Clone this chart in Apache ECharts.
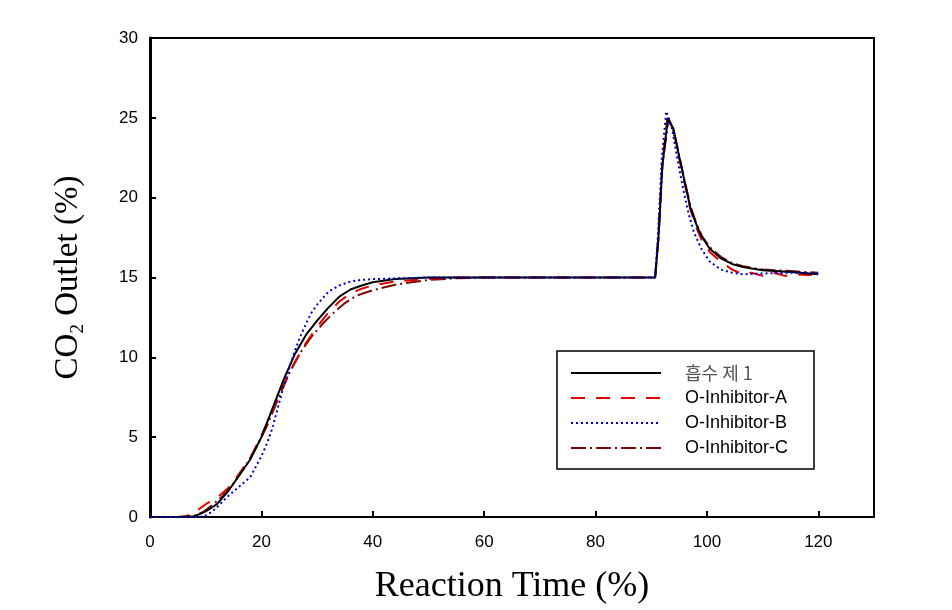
<!DOCTYPE html>
<html>
<head>
<meta charset="utf-8">
<script src="https://cdn.jsdelivr.net/npm/echarts@6/dist/echarts.min.js"></script>
<style>html,body{margin:0;padding:0;background:#fff;}#c{width:952px;height:610px;}</style>
</head>
<body>
<div id="c"></div>
<script>
var seriesNames = ['흡수 제 1', 'O-Inhibitor-A', 'O-Inhibitor-B', 'O-Inhibitor-C'];
var xTicks = [0, 20, 40, 60, 80, 100, 120];
var yTicks = [0, 5, 10, 15, 20, 25, 30];

var x1 = [0,5,8,9,10,12,14,16,18,20,22,24,26,28,30,32,34,36,38,40,44,50,60,70,80,90.7,91.3,92.0,93.0,94.0,95.0,96.0,97.0,98.0,99.0,100.5,102.5,104.5,106.5,110,115,120];
var y1 = [0,0,0.05,0.2,0.35,0.8,1.6,2.6,3.6,5.0,6.8,8.6,10.2,11.4,12.3,13.1,13.8,14.25,14.5,14.7,14.9,15.0,15.0,15.0,15.0,15.0,17.5,22.0,25.0,24.3,22.6,21.0,19.4,18.4,17.6,16.8,16.2,15.85,15.65,15.45,15.35,15.2];

var xA = [0,5,6.5,8,10,12,14,16,18,20,22,24,26,28,30,32,34,36,38,40,44,50,55,60,70,80,90.7,91.3,92.0,92.9,94.0,95.0,96.0,97.0,98.0,99.0,100.5,102.5,104.5,106.5,108,110,112,114,116,118,120];
var yA = [0,0,0.05,0.3,0.8,1.2,1.8,2.7,3.7,5.1,6.6,8.3,9.7,10.9,11.9,12.8,13.5,14.0,14.3,14.5,14.75,14.9,15.0,15.0,15.0,15.0,15.0,17.6,22.2,25.0,24.2,22.5,20.9,19.3,18.2,17.4,16.6,16.0,15.5,15.2,15.3,15.1,15.3,15.1,15.2,15.15,15.2];

var xB = [0,9,10,11,12,14,16,18,20,21,22,23,24,25,26,27,28,29,30,31,32,34,36,38,40,45,50,60,70,80,90.7,91.2,91.9,92.7,93.7,94.7,95.7,96.7,97.7,99.0,100.5,102.5,104.5,106.5,110,115,120];
var yB = [0,0,0.1,0.3,0.6,1.3,1.9,2.5,3.8,4.6,5.6,6.9,8.2,9.3,10.4,11.3,12.1,12.8,13.3,13.7,14.1,14.5,14.75,14.85,14.9,14.95,15.0,15.0,15.0,15.0,15.0,17.6,22.5,25.4,24.4,22.4,20.6,19.0,17.8,16.8,16.0,15.5,15.3,15.2,15.25,15.3,15.25];

var xC = [0,6,8,9.5,11,13,15,17,19,21,23,25,27,29,31,33,35,37,40,44,50,55,60,70,80,90.7,91.3,92.0,93.1,94.1,95.1,96.1,97.1,98.1,99.1,100.5,102.5,104.5,106.5,110,115,120];
var yC = [0,0,0.1,0.3,0.7,1.3,2.1,3.1,4.3,5.7,7.4,9.0,10.3,11.3,12.1,12.8,13.4,13.85,14.2,14.55,14.85,14.95,15.0,15.0,15.0,15.0,17.5,22.0,24.9,24.1,22.5,20.9,19.4,18.4,17.6,16.9,16.3,15.9,15.7,15.5,15.4,15.3];

function pairs(xs, ys) { return xs.map(function (x, i) { return [x, ys[i]]; }); }

var chart = echarts.init(document.getElementById('c'), null, {renderer: 'canvas'});
var axisFont = 'Liberation Sans, Arial, sans-serif';
var titleFont = 'Liberation Serif, Times New Roman, serif';

var option = {
  animation: false,
  backgroundColor: '#fff',
  grid: { left: 150, right: 78, top: 38, bottom: 86, show: true, borderColor: '#000', borderWidth: 2, backgroundColor: 'transparent' },
  xAxis: {
    type: 'value', min: 0, max: 130, interval: 20,
    name: 'Reaction Time (%)', nameLocation: 'middle', nameGap: 52,
    nameTextStyle: { fontFamily: titleFont, fontSize: 36, color: '#000' },
    axisLine: { show: true, lineStyle: { color: '#000', width: 2 } },
    axisTick: { show: true, inside: true, length: 6, lineStyle: { color: '#000', width: 2 } },
    axisLabel: { fontFamily: axisFont, fontSize: 17, color: '#000', margin: 17,
      formatter: function (v) { return xTicks.indexOf(v) >= 0 ? String(v) : ''; } },
    splitLine: { show: false }
  },
  yAxis: {
    type: 'value', min: 0, max: 30, interval: 5,
    name: '{a|CO}{s|2}{a| Outlet (%)}', nameLocation: 'middle', nameGap: 62, nameRotate: 90,
    nameTextStyle: { fontFamily: titleFont, fontSize: 32, color: '#000',
      rich: {
        a: { fontFamily: titleFont, fontSize: 33, color: '#000', lineHeight: 36, verticalAlign: 'top' },
        s: { fontFamily: titleFont, fontSize: 19, color: '#000', lineHeight: 19, padding: [20, 0, 0, 0], verticalAlign: 'bottom' }
      } },
    axisLine: { show: true, lineStyle: { color: '#000', width: 3 } },
    axisTick: { show: true, inside: true, length: 6, lineStyle: { color: '#000', width: 2 } },
    axisLabel: { fontFamily: axisFont, fontSize: 17, color: '#000', margin: 12,
      formatter: function (v) { return yTicks.indexOf(v) >= 0 ? String(v) : ''; } },
    splitLine: { show: false }
  },
  legend: {
    orient: 'vertical', left: 557, top: 351,
    padding: [13, 26, 12, 13],
    itemWidth: 90, itemHeight: 14, itemGap: 7,
    backgroundColor: '#fff', borderColor: '#000', borderWidth: 1.5,
    itemStyle: { color: 'rgba(0,0,0,0)', borderColor: 'rgba(0,0,0,0)', borderWidth: 0, opacity: 0 },
    textStyle: { fontFamily: axisFont, fontSize: 18, color: '#000', padding: [0, 0, 0, 19] },
    data: [
      { name: seriesNames[0], textStyle: { color: '#555', fontFamily: 'Noto Sans CJK KR, sans-serif', fontSize: 18 } },
      { name: seriesNames[1] },
      { name: seriesNames[2] },
      { name: seriesNames[3] }
    ]
  },
  series: [
    { name: seriesNames[0], type: 'line', data: pairs(x1, y1), symbol: 'none', z: 4,
      lineStyle: { color: '#000', width: 2, type: 'solid' }, itemStyle: { color: '#000' } },
    { name: seriesNames[1], type: 'line', data: pairs(xA, yA), symbol: 'none', z: 3,
      lineStyle: { color: '#e00000', width: 2, type: [14, 11] }, itemStyle: { color: '#e00000' } },
    { name: seriesNames[2], type: 'line', data: pairs(xB, yB), symbol: 'none', z: 5,
      lineStyle: { color: '#0000cc', width: 2, type: [2, 3] }, itemStyle: { color: '#0000cc' } },
    { name: seriesNames[3], type: 'line', data: pairs(xC, yC), symbol: 'none', z: 2,
      lineStyle: { color: '#7a0a0a', width: 2, type: [15, 4, 2, 4] }, itemStyle: { color: '#7a0a0a' } }
  ]
};
chart.setOption(option);
</script>
</body>
</html>
